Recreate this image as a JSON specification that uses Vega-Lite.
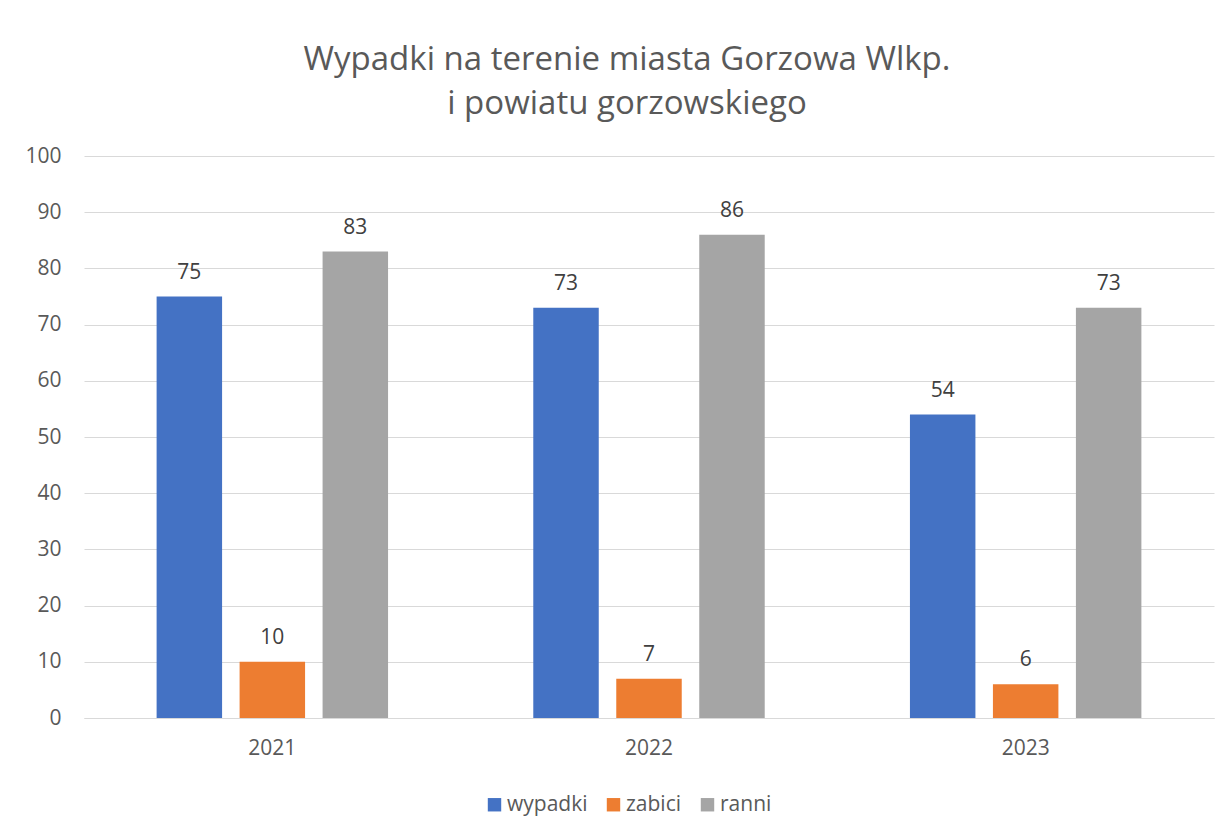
{
  "$schema": "https://vega.github.io/schema/vega-lite/v6.json",
  "autosize": {"type": "none"},
  "width": 1130,
  "height": 562,
  "padding": {"left": 84, "top": 156, "right": 18, "bottom": 116},
  "background": "white",
  "title": {
    "text": ["Wypadki na terenie miasta Gorzowa Wlkp.", "i powiatu gorzowskiego"],
    "anchor": "middle",
    "frame": "group",
    "font": "Open Sans",
    "fontSize": 33,
    "fontWeight": "normal",
    "color": "#595959",
    "lineHeight": 44,
    "baseline": "alphabetic",
    "offset": -2,
    "dx": -22
  },
  "data": {
    "values": [
      {"rok": "2021", "seria": "wypadki", "wartosc": 75},
      {"rok": "2021", "seria": "zabici", "wartosc": 10},
      {"rok": "2021", "seria": "ranni", "wartosc": 83},
      {"rok": "2022", "seria": "wypadki", "wartosc": 73},
      {"rok": "2022", "seria": "zabici", "wartosc": 7},
      {"rok": "2022", "seria": "ranni", "wartosc": 86},
      {"rok": "2023", "seria": "wypadki", "wartosc": 54},
      {"rok": "2023", "seria": "zabici", "wartosc": 6},
      {"rok": "2023", "seria": "ranni", "wartosc": 73}
    ]
  },
  "encoding": {
    "x": {
      "field": "rok", "type": "nominal",
      "scale": {"paddingInner": 0, "paddingOuter": 0},
      "axis": {
        "title": null, "labelAngle": 0, "ticks": false,
        "domain": true, "domainColor": "#d9d9d9", "domainWidth": 1,
        "labelFont": "Open Sans", "labelFontSize": 21, "labelColor": "#595959",
        "labelPadding": 19, "grid": false
      }
    },
    "xOffset": {
      "field": "seria", "type": "nominal",
      "sort": ["wypadki", "zabici", "ranni"],
      "scale": {"paddingInner": 0.211, "paddingOuter": 0.875}
    },
    "y": {
      "field": "wartosc", "type": "quantitative",
      "scale": {"domain": [0, 100], "nice": false},
      "axis": {
        "title": null, "values": [0, 10, 20, 30, 40, 50, 60, 70, 80, 90, 100],
        "ticks": false, "domain": false,
        "grid": true, "gridColor": "#d9d9d9", "gridWidth": 1,
        "labelFont": "Open Sans", "labelFontSize": 21, "labelColor": "#595959",
        "labelPadding": 23
      }
    }
  },
  "layer": [
    {
      "mark": {"type": "bar"},
      "encoding": {
        "color": {
          "field": "seria", "type": "nominal",
          "sort": ["wypadki", "zabici", "ranni"],
          "scale": {"domain": ["wypadki", "zabici", "ranni"], "range": ["#4472C4", "#ED7D31", "#A5A5A5"]},
          "legend": {
            "title": null, "orient": "none", "direction": "horizontal",
            "legendX": 400, "legendY": 638, "padding": 0,
            "symbolType": "square", "symbolSize": 180, "symbolStrokeWidth": 0,
            "labelFont": "Open Sans", "labelFontSize": 21, "labelColor": "#595959",
            "labelOffset": 2, "columnPadding": 15
          }
        }
      }
    },
    {
      "mark": {"type": "text", "baseline": "alphabetic", "dy": -18, "font": "Open Sans", "fontSize": 21, "color": "#404040"},
      "encoding": {
        "text": {"field": "wartosc", "type": "quantitative"}
      }
    }
  ],
  "config": {"view": {"stroke": null}}
}
